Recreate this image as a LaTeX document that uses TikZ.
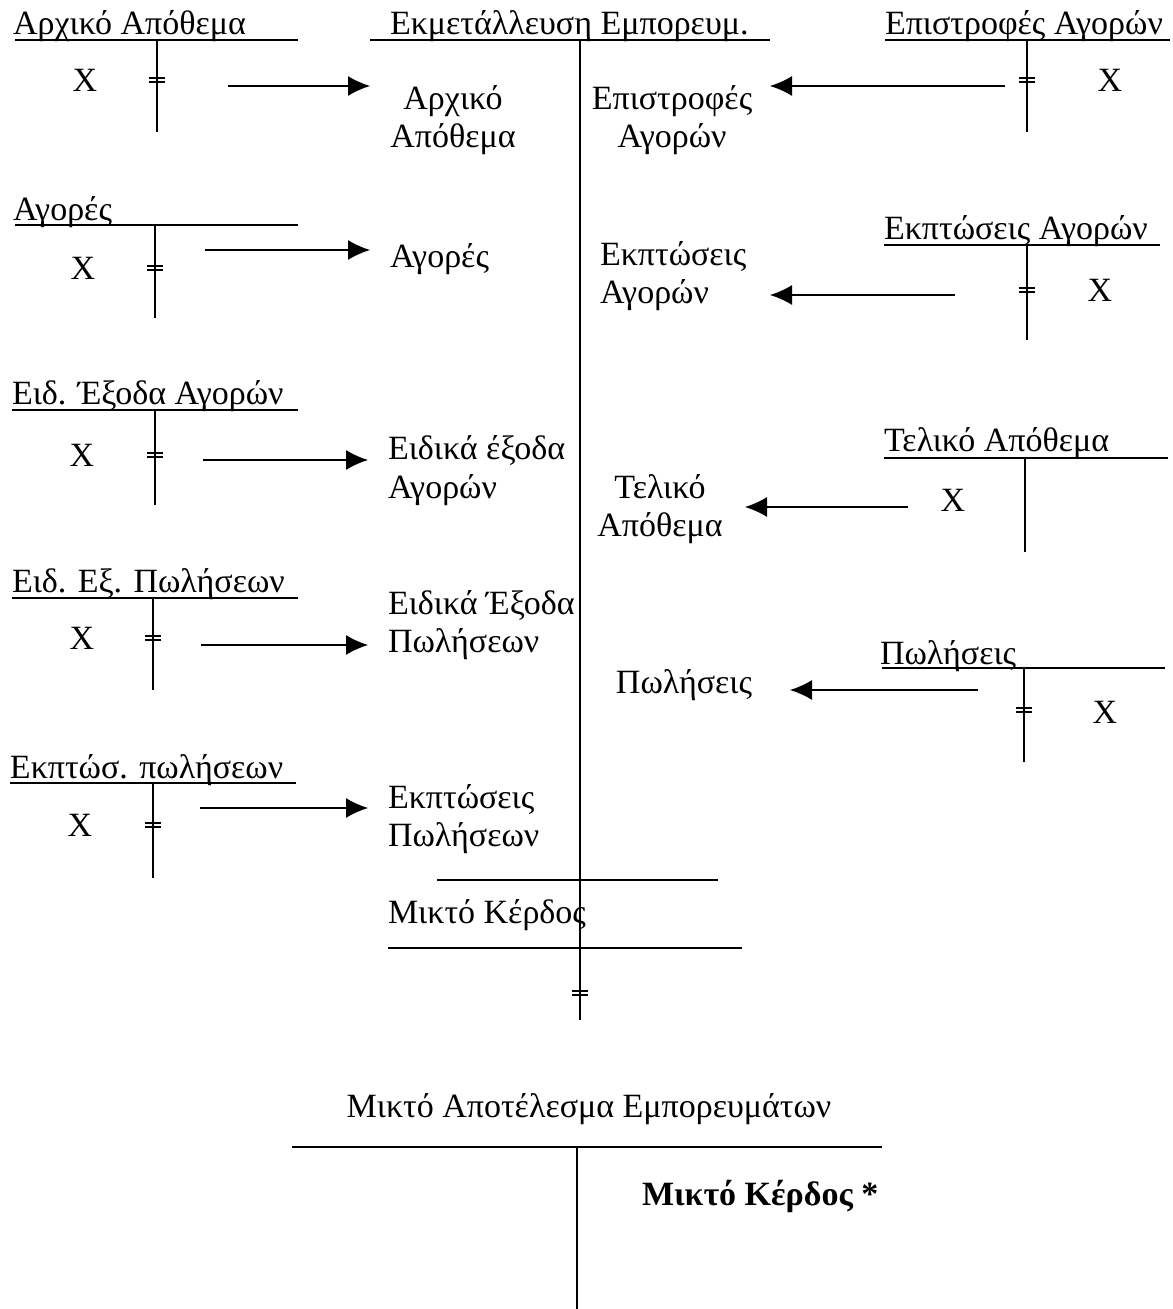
\documentclass[tikz,border=0pt]{standalone}
\usepackage{fontspec}
\setmainfont{Liberation Serif}
\usetikzlibrary{arrows.meta}
\tikzset{
  eqmark/.pic={\draw (-8,-2) -- (8,-2) (-8,2) -- (8,2);}
}
\begin{document}
\begin{tikzpicture}[x=0.5pt, y=-0.5pt, line width=0.7pt,
    every node/.style={inner sep=0pt, outer sep=0pt, font=\fontsize{17}{19}\selectfont},
    title/.style={anchor=base west},
    entry/.style={anchor=base, align=left},
    flow/.style={-{Latex[length=11pt, width=10pt]}}]
            \useasboundingbox (0,0) rectangle (1172,1309);
            % main account
            \node[title] (main) at (390,35) {Εκμετάλλευση Εμπορευμ.};
            \draw (370,40) -- (770,40);
            \draw (580,40) -- (580,1020);
            \node[entry, align=center] (e1) at (453,148) {Αρχικό\\Απόθεμα};
            \node[title] (e2) at (390,268) {Αγορές};
            \node[title, align=left] (e3) at (388,498) {Ειδικά έξοδα\\Αγορών};
            \node[title, align=left] (e4) at (388,652) {Ειδικά Έξοδα\\Πωλήσεων};
            \node[title, align=left] (e5) at (388,846) {Εκπτώσεις\\Πωλήσεων};
            \node[entry, align=center] (r1) at (672,148) {Επιστροφές\\Αγορών};
            \node[title, align=left] (r2) at (600,304) {Εκπτώσεις\\Αγορών};
            \node[entry, align=center] (r3) at (660,536) {Τελικό\\Απόθεμα};
            \node[entry] (r4) at (684,693) {Πωλήσεις};
            \draw (437,880) -- (718,880);
            \node[title] (profit) at (388,923) {Μικτό Κέρδος};
            \draw (388,948) -- (742,948);
            \pic at (580,993) {eqmark};

            % left accounts
            \node[title] (t1) at (13,35) {Αρχικό Απόθεμα};
            \draw (15,40) -- (298,40);
            \draw (157,40) -- (157,132);
            \node (x1) at (85,80) {X};
            \pic at (157,80) {eqmark};
            \node[title] (t2) at (13,221) {Αγορές};
            \draw (15,225) -- (298,225);
            \draw (155,225) -- (155,318);
            \node (x2) at (83,268) {X};
            \pic at (155,268) {eqmark};
            \node[title] (t3) at (12,405) {Ειδ. Έξοδα Αγορών};
            \draw (12,410) -- (298,410);
            \draw (155,410) -- (155,505);
            \node (x3) at (82,455) {X};
            \pic at (155,455) {eqmark};
            \node[title] (t4) at (12,592) {Ειδ. Εξ. Πωλήσεων};
            \draw (12,598) -- (298,598);
            \draw (153,598) -- (153,690);
            \node (x4) at (82,638) {X};
            \pic at (153,638) {eqmark};
            \node[title] (t5) at (10,778) {Εκπτώσ. πωλήσεων};
            \draw (10,783) -- (296,783);
            \draw (153,783) -- (153,878);
            \node (x5) at (80,825) {X};
            \pic at (153,825) {eqmark};

            % right accounts
            \node[title] (s1) at (885,35) {Επιστροφές Αγορών};
            \draw (885,40) -- (1170,40);
            \draw (1027,40) -- (1027,132);
            \node (y1) at (1110,80) {X};
            \pic at (1027,80) {eqmark};
            \node[title] (s2) at (884,240) {Εκπτώσεις Αγορών};
            \draw (884,245) -- (1160,245);
            \draw (1027,245) -- (1027,340);
            \node (y2) at (1100,290) {X};
            \pic at (1027,290) {eqmark};
            \node[title] (s3) at (884,452) {Τελικό Απόθεμα};
            \draw (884,458) -- (1168,458);
            \draw (1025,458) -- (1025,552);
            \node (y3) at (953,500) {X};
            \node[title] (s4) at (880,664) {Πωλήσεις};
            \draw (882,668) -- (1165,668);
            \draw (1024,668) -- (1024,762);
            \node (y4) at (1105,712) {X};
            \pic at (1024,710) {eqmark};

            % arrows
            \coordinate (a1) at (228,86);  \coordinate (b1) at (370,86);
            \coordinate (a2) at (205,250); \coordinate (b2) at (370,250);
            \coordinate (a3) at (203,460); \coordinate (b3) at (368,460);
            \coordinate (a4) at (201,645); \coordinate (b4) at (368,645);
            \coordinate (a5) at (200,808); \coordinate (b5) at (368,808);
            \coordinate (c1) at (1005,86); \coordinate (d1) at (770,86);
            \coordinate (c2) at (955,295); \coordinate (d2) at (770,295);
            \coordinate (c3) at (908,507); \coordinate (d3) at (745,507);
            \coordinate (c4) at (978,690); \coordinate (d4) at (790,690);
            \draw[flow] (a1) -- (b1);
            \draw[flow] (a2) -- (b2);
            \draw[flow] (a3) -- (b3);
            \draw[flow] (a4) -- (b4);
            \draw[flow] (a5) -- (b5);
            \draw[flow] (c1) -- (d1);
            \draw[flow] (c2) -- (d2);
            \draw[flow] (c3) -- (d3);
            \draw[flow] (c4) -- (d4);

            % result account
            \node[anchor=base] (res) at (589,1117) {Μικτό Αποτέλεσμα Εμπορευμάτων};
            \draw (292,1147) -- (882,1147);
            \draw (577,1147) -- (577,1309);
            \node[title, font=\fontsize{17}{19}\selectfont\bfseries] (gain) at (642,1205) {Μικτό Κέρδος *};
        \end{tikzpicture}
\end{document}
